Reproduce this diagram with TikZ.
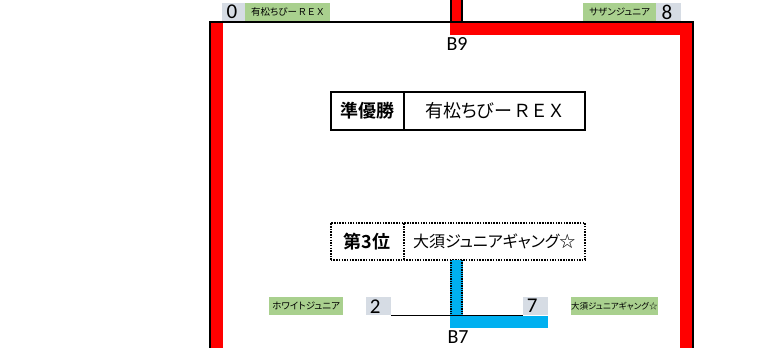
\documentclass[tikz,border=0pt]{standalone}
\usepackage{fontspec}
\setmainfont{Carlito}
\newfontfamily\jp{Noto Sans CJK JP}[RawFeature=+palt,BoldFont={Noto Sans CJK JP Bold}]
\definecolor{tred}{HTML}{FF0000}
\definecolor{tblue}{HTML}{00B0F0}
\definecolor{tgreen}{HTML}{A9D08E}
\definecolor{tgray}{HTML}{D6DCE4}
\begin{document}
\begin{tikzpicture}[x=1pt,y=-1pt,
  greenlab/.style={fill=tgreen,inner sep=0pt,minimum height=18pt,anchor=north west,font=\jp\fontsize{9.5}{10}\selectfont},
  graylab/.style={fill=tgray,inner sep=0pt,minimum height=18pt,anchor=north west,font=\fontsize{21}{21}\selectfont},
  cell/.style={draw,line width=2pt,inner sep=0pt,minimum height=38pt,anchor=north west,font=\jp\fontsize{18}{18}\selectfont},
  dcell/.style={draw,line width=1.5pt,dash pattern=on 1.5pt off 1.2pt,inner sep=0pt,minimum height=37pt,anchor=north west,font=\jp\fontsize{18}{18}\selectfont},
  blab/.style={font=\fontsize{20}{20}\selectfont,inner sep=0pt},
  frame/.style={line width=2pt}]
\useasboundingbox (0,0) rectangle (775,348);
% red bracket
\coordinate (lt) at (210,22);
\coordinate (lb) at (210,348);
\coordinate (rt) at (693,22);
\coordinate (rb) at (693,348);
\fill[tred] (211,22) rectangle (223,348);
\fill[tred] (450,0) rectangle (463,35);
\fill[tred] (450,22) rectangle (692,35);
\fill[tred] (680,22) rectangle (692,348);
\draw[frame] (209,22) -- (694,22);
\draw[frame] (lt) -- (lb);
\draw[frame] (rt) -- (rb);
\draw[line width=1.5pt] (451,0) -- (451,22) (462,0) -- (462,22);
\node[blab] (b9) at (457,44) {B9};
% top labels
\node[graylab,minimum width=23pt] (s0) at (222,3) {\hfill 0\,};
\node[greenlab,minimum width=85pt] (t0) at (245,3) {有松ちびー\,Ｒ\,Ｅ\,Ｘ};
\node[greenlab,minimum width=73pt] (t8) at (583,3) {サザンジュニア};
\node[graylab,minimum width=25pt] (s8) at (656,3) {\hfill 8\,};
% result boxes
\node[cell,minimum width=73pt] (r2l) at (330,91) {\bfseries 準優勝};
\node[cell,minimum width=181pt] (r2n) at (403,91) {有松ちびー\,Ｒ\,Ｅ\,Ｘ};
\node[dcell,minimum width=73pt] (r3l) at (330,222) {\bfseries 第3位};
\node[dcell,minimum width=181pt,font=\jp\fontsize{16}{16}\selectfont] (r3n) at (403,222) {大須ジュニアギャング☆};
% B7 bracket
\fill[tblue] (450,260) rectangle (463,316);
\fill[tblue] (450,316) rectangle (548,328);
\draw[line width=1.3pt,dash pattern=on 1.3pt off 1pt] (451,260) -- (451,315) (462,260) -- (462,315);
\node[graylab,minimum width=25pt] (s2) at (366,297) {\hfill 2\,\,};
\node[graylab,minimum width=25pt] (s7) at (523,297) {\hfill 7\,\,};
\node[greenlab,minimum width=74pt] (t2) at (269,297) {ホワイトジュニア};
\node[greenlab,minimum width=86pt,font=\jp\fontsize{8.5}{9}\selectfont] (t7) at (571,297) {大須ジュニアギャング☆};
\draw[line width=1.2pt] (s2.south east) -- (s7.south west);
\node[blab] (b7) at (458,337) {B7};
\end{tikzpicture}
\end{document}
